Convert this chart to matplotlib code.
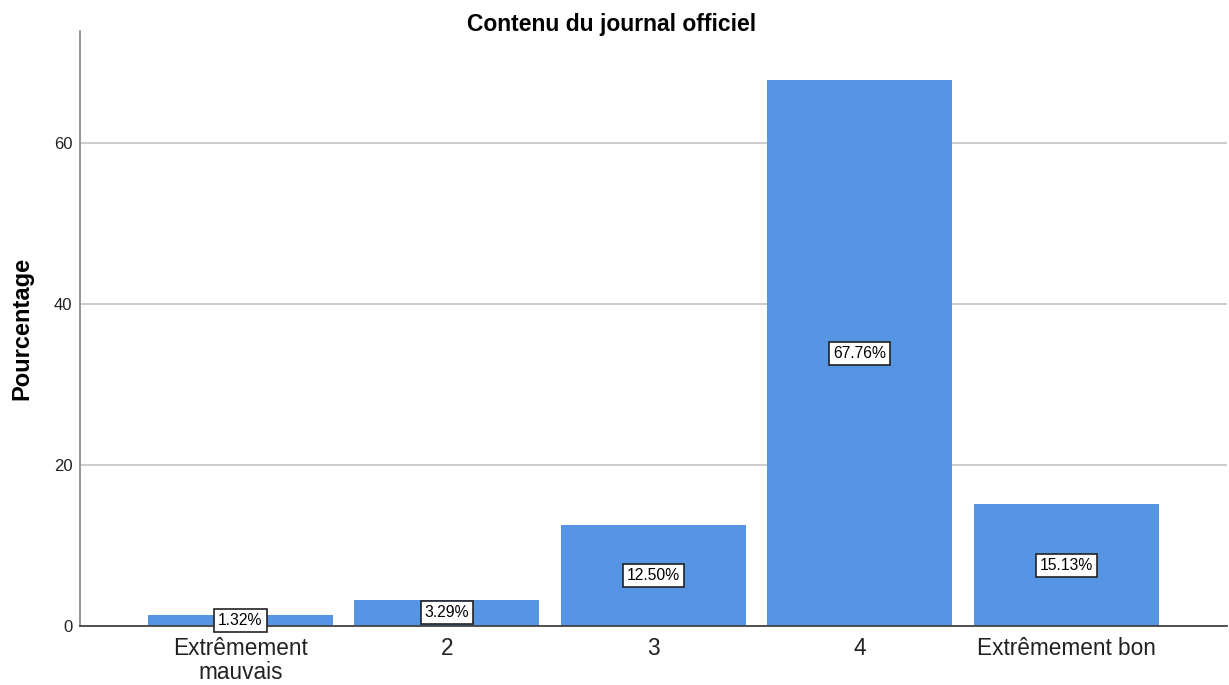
import numpy as np
import matplotlib
matplotlib.use("Agg")
import matplotlib.pyplot as plt

# data
categories = ["Extrêmement\nmauvais", "2", "3", "4", "Extrêmement bon"]
percentages = [1.32, 3.29, 12.50, 67.76, 15.13]
yticks = [0, 20, 40, 60]

plt.rcParams['font.family'] = ['Liberation Sans', 'DejaVu Sans']

fig = plt.figure(figsize=(12.29, 6.85), dpi=100)
ax = fig.add_axes([0.0651, 0.0861, 0.933, 0.869])

x = np.arange(len(categories))
bars = ax.bar(x, percentages, width=0.896, color='#5595e3', zorder=2)

# value labels in the middle of each bar
for xi, v in zip(x, percentages):
    ax.text(xi, v / 2, "%.2f%%" % v, ha='center', va='center', fontsize=11.3,
            color='black', zorder=3,
            bbox=dict(boxstyle='square,pad=0.25', facecolor='white',
                      edgecolor='#222222', linewidth=1.2))

ax.set_xlim(-0.777, 4.777)
ax.set_ylim(0, 73.9)
ax.set_yticks(yticks)
ax.set_xticks(x)
ax.set_xticklabels(categories, fontsize=16.3, color='#222222', linespacing=1.05)
ax.tick_params(axis='y', labelsize=12, length=0, pad=5.5, labelcolor='#222222')
ax.tick_params(axis='x', length=0, pad=8)

ax.yaxis.grid(True, color='#c8c8c8', linewidth=1.3, zorder=0)
ax.set_axisbelow(True)

for s in ['top', 'right']:
    ax.spines[s].set_visible(False)
ax.spines['left'].set_color('#8c8c8c')
ax.spines['left'].set_linewidth(1.3)
ax.spines['bottom'].set_color('#444444')
ax.spines['bottom'].set_linewidth(1.3)

ax.set_ylabel("Pourcentage", fontsize=17, fontweight='bold', labelpad=15)
fig.text(0.498, 1 - 24 / 685, "Contenu du journal officiel", fontsize=16.5,
         fontweight='bold', ha='center', va='center')

fig.savefig("out.png", dpi=100)
